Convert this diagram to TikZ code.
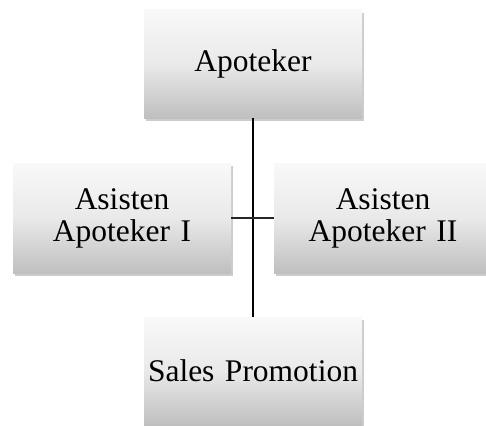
\documentclass[tikz,border=0pt]{standalone}
\usepackage{fontspec}
\setmainfont{Liberation Serif}
\usetikzlibrary{shadows}
\tikzstyle{box} = [rectangle, minimum width=218pt, minimum height=108pt, text width=216pt, align=center, inner sep=0pt, top color=gray!5, bottom color=gray!50, middle color=gray!17, drop shadow={shadow xshift=2pt, shadow yshift=-3pt, opacity=0.4}, font=\fontsize{31.5}{32}\selectfont]
\tikzstyle{line} = [draw, line width=1.5pt]

\begin{document}
\begin{tikzpicture}[x=1pt, y=-1pt]
        \useasboundingbox (0,0) rectangle (486,425);
        \clip (0,0) rectangle (486,425);
        \node (apoteker) [box] at (253,64) {Apoteker};
        \node (asisten1) [box, minimum height=110pt] at (122,218) {Asisten\\Apoteker I};
        \node (asisten2) [box, minimum height=110pt] at (383,218) {Asisten\\Apoteker II};
        \node (sales) [box] at (253,371) {Sales Promotion};

        \path [line] (apoteker) -- (sales);
        \path [line, draw=black!85, line width=1.2pt] (asisten1) -- (asisten2);
    \end{tikzpicture}
\end{document}
